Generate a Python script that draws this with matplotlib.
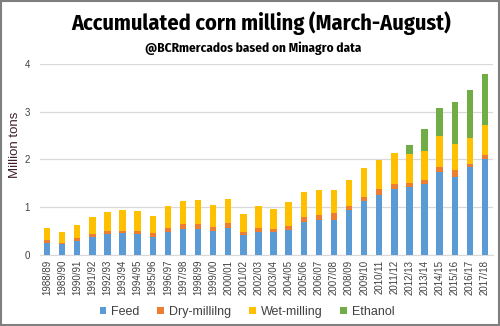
import numpy as np
import matplotlib.pyplot as plt
from matplotlib.patches import Rectangle

# Campaigns
seasons = ['1988/89', '1989/90', '1990/91', '1991/92', '1992/93', '1993/94',
           '1994/95', '1995/96', '1996/97', '1997/98', '1998/99', '1999/00',
           '2000/01', '2001/02', '2002/03', '2003/04', '2004/05', '2005/06',
           '2006/07', '2007/08', '2008/09', '2009/10', '2010/11', '2011/12',
           '2012/13', '2013/14', '2014/15', '2015/16', '2016/17', '2017/18']

# Million tons
feed = [0.26, 0.22, 0.29, 0.38, 0.43, 0.45, 0.43, 0.38, 0.49, 0.54, 0.54, 0.50,
        0.56, 0.42, 0.49, 0.47, 0.53, 0.70, 0.74, 0.74, 0.94, 1.12, 1.25, 1.38,
        1.42, 1.48, 1.74, 1.63, 1.84, 2.00]
dry_milling = [0.05, 0.04, 0.06, 0.06, 0.07, 0.05, 0.07, 0.07, 0.08, 0.10, 0.10, 0.09,
               0.10, 0.06, 0.08, 0.07, 0.08, 0.10, 0.10, 0.13, 0.09, 0.10, 0.13, 0.10,
               0.08, 0.09, 0.11, 0.14, 0.07, 0.09]
wet_milling = [0.26, 0.21, 0.28, 0.36, 0.40, 0.44, 0.42, 0.37, 0.46, 0.49, 0.51, 0.46,
               0.52, 0.38, 0.46, 0.43, 0.49, 0.52, 0.52, 0.50, 0.54, 0.60, 0.61, 0.65,
               0.61, 0.61, 0.64, 0.55, 0.54, 0.63]
ethanol = [0] * 24 + [0.19, 0.46, 0.58, 0.88, 1.00, 1.06]

plt.rcParams['font.family'] = ['Liberation Sans', 'DejaVu Sans']
narrow = ['Fira Sans Condensed', 'Archivo Narrow', 'Liberation Sans', 'DejaVu Sans']

fig = plt.figure(figsize=(5, 3.26), dpi=100)
ax = fig.add_axes([0.079, 0.218, 0.906, 0.586])

x = np.arange(len(seasons))
w = 0.42
feed = np.array(feed)
dry_milling = np.array(dry_milling)
wet_milling = np.array(wet_milling)
ethanol = np.array(ethanol)

ax.bar(x, feed, w, color='#5B9BD5', label='Feed', zorder=3)
ax.bar(x, dry_milling, w, bottom=feed, color='#ED7D31', label='Dry-millilng', zorder=3)
ax.bar(x, wet_milling, w, bottom=feed + dry_milling, color='#FFC000', label='Wet-milling', zorder=3)
ax.bar(x, ethanol, w, bottom=feed + dry_milling + wet_milling, color='#70AD47',
       label='Ethanol', zorder=3)

ax.set_xlim(-0.5, len(seasons) - 0.5)
ax.set_ylim(0, 4)
ax.set_yticks([0, 1, 2, 3, 4])
ax.grid(axis='y', color='#D9D9D9', linewidth=0.9, zorder=0)
for s in ['top', 'right', 'left']:
    ax.spines[s].set_visible(False)
ax.spines['bottom'].set_color('#D9D9D9')
ax.tick_params(axis='both', length=0, labelsize=7, colors='#404040')
ax.tick_params(axis='y', pad=7)
ax.set_xticks(x)
ax.set_xticklabels(seasons, rotation=90)
ax.set_ylabel('Million tons', fontsize=9.5, color='#40202c')
ax.yaxis.set_label_coords(-0.041, 0.576)

leg = ax.legend(loc='center', bbox_to_anchor=(0.458, -0.298), ncol=4, frameon=False,
                fontsize=9, handlelength=0.55, handleheight=0.55, handletextpad=0.4,
                columnspacing=1.4, labelcolor='#404040')

fig.text(0.522, 0.93, 'Accumulated corn milling (March-August)', ha='center', va='center',
         fontsize=16, fontweight='bold', family=narrow)
fig.text(0.506, 0.853, '@BCRmercados based on Minagro data', ha='center', va='center',
         fontsize=9.5, fontweight='bold', family=narrow)

fig.add_artist(Rectangle((0.002, 0.003), 0.995, 0.994, transform=fig.transFigure,
                         fill=False, edgecolor='#7f7f7f', linewidth=1.5))

plt.savefig('out.png', dpi=100)
